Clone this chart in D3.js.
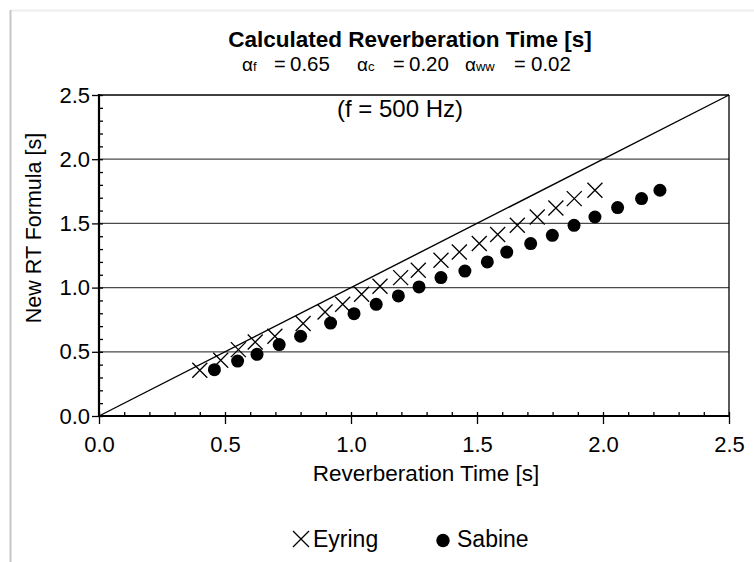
<!DOCTYPE html>
<html><head><meta charset="utf-8">
<script src="https://cdn.jsdelivr.net/npm/d3@7"></script>
<style>body{margin:0;background:#fff}svg{display:block}text{font-family:"Liberation Sans",Arial,sans-serif;fill:#000}</style>
</head><body><svg id="c" width="754" height="562"></svg>
<script>
const eyringX = [0.40,0.483,0.553,0.62,0.698,0.81,0.897,0.967,1.042,1.115,1.197,1.267,1.357,1.43,1.509,1.582,1.66,1.739,1.813,1.886,1.968];
const eyringY = [0.356,0.434,0.517,0.576,0.621,0.72,0.81,0.87,0.948,1.01,1.078,1.135,1.213,1.277,1.343,1.413,1.485,1.55,1.62,1.693,1.758];
const sabineX = [0.458,0.55,0.627,0.715,0.80,0.919,1.012,1.10,1.188,1.27,1.357,1.452,1.541,1.618,1.713,1.799,1.885,1.968,2.058,2.153,2.226];
const sabineY = [0.361,0.428,0.48,0.556,0.621,0.724,0.797,0.87,0.935,1.005,1.078,1.129,1.2,1.277,1.343,1.407,1.485,1.55,1.623,1.693,1.758];
const majorTicks = [0,0.5,1.0,1.5,2.0,2.5];
const minorTicks = d3.range(0,26).map(i=>i/10);
const gridValues = [0.5,1.0,1.5,2.0];
const title = "Calculated Reverberation Time [s]";
const subtitleSubs = ["f","c","ww"];
const subtitleVals = ["0.65","0.20","0.02"];
const note = "(f = 500 Hz)";
const xTitle = "Reverberation Time [s]";
const yTitle = "New RT Formula [s]";
const seriesNames = ["Eyring","Sabine"];

const svg = d3.select("#c");
const L=99, R=729, T=95, B=416;
const x = d3.scaleLinear().domain([0,2.5]).range([L,R]);
const y = d3.scaleLinear().domain([0,2.5]).range([B,T]);

// outer frame
svg.append("line").attr("x1",10).attr("x2",754).attr("y1",10.5).attr("y2",10.5).attr("stroke","#eeeeee").attr("stroke-width",2);
svg.append("line").attr("x1",10.5).attr("x2",10.5).attr("y1",10).attr("y2",562).attr("stroke","#c6c6c6").attr("stroke-width",2);

// grid
svg.append("g").selectAll("line").data(gridValues).join("line")
  .attr("x1",L).attr("x2",R).attr("y1",d=>y(d)).attr("y2",d=>y(d))
  .attr("stroke","#4a4a4a").attr("stroke-width",1.3);
svg.append("line").attr("x1",L).attr("x2",R).attr("y1",y(2.5)).attr("y2",y(2.5)).attr("stroke","#000").attr("stroke-width",1.3);
svg.append("line").attr("x1",x(2.5)).attr("x2",x(2.5)).attr("y1",T).attr("y2",B).attr("stroke","#000").attr("stroke-width",1.3);

// diagonal y = x
svg.append("line").attr("x1",x(0)).attr("y1",y(0)).attr("x2",x(2.5)).attr("y2",y(2.5)).attr("stroke","#000").attr("stroke-width",1.4);

// axes
const fs = 22;
const xMajor = svg.append("g").attr("transform",`translate(0,${B})`)
  .call(d3.axisBottom(x).tickValues(majorTicks).tickSize(8).tickPadding(12).tickFormat(d3.format(".1f")));
const xMinor = svg.append("g").attr("transform",`translate(0,${B})`)
  .call(d3.axisTop(x).tickValues(minorTicks).tickSize(4).tickFormat(""));
const yMajor = svg.append("g").attr("transform",`translate(${L},0)`)
  .call(d3.axisLeft(y).tickValues(majorTicks).tickSize(7).tickPadding(2).tickFormat(d3.format(".1f")));
const yMinor = svg.append("g").attr("transform",`translate(${L},0)`)
  .call(d3.axisRight(y).tickValues(minorTicks).tickSize(4).tickFormat(""));
[xMajor,xMinor,yMajor,yMinor].forEach(g=>{
  g.select(".domain").remove();
  g.selectAll(".tick line").attr("stroke","#000").attr("stroke-width",1.3);
  g.selectAll("text").attr("font-size",fs).attr("font-family","Liberation Sans, Arial, sans-serif").attr("fill","#000");
});
svg.append("line").attr("x1",L).attr("x2",R).attr("y1",B).attr("y2",B).attr("stroke","#000").attr("stroke-width",2.2);
svg.append("line").attr("x1",L).attr("x2",L).attr("y1",T-1).attr("y2",B+1).attr("stroke","#000").attr("stroke-width",2.2);

// markers
function cross(g, cx, cy, h){
  g.append("path").attr("d",`M${cx-h},${cy-h}L${cx+h},${cy+h}M${cx-h},${cy+h}L${cx+h},${cy-h}`)
   .attr("stroke","#000").attr("stroke-width",1.3).attr("fill","none");
}
const ge = svg.append("g");
eyringX.forEach((v,i)=>cross(ge, x(v), y(eyringY[i]), 7.5));
svg.append("g").selectAll("circle").data(sabineX).join("circle")
  .attr("cx",d=>x(d)).attr("cy",(d,i)=>y(sabineY[i])).attr("r",6.5).attr("fill","#000");

// titles
svg.append("text").attr("x",410).attr("y",47).attr("text-anchor","middle").attr("font-size",22.5).attr("font-weight","bold").text(title);
const alphaX = [242,357,465], eqX = [274,393,514], valX = [290,409,531];
subtitleSubs.forEach((s,i)=>{
  const t = svg.append("text").attr("x",alphaX[i]).attr("y",71).attr("font-size",19);
  t.append("tspan").text("α");
  t.append("tspan").attr("font-size",13).text(s);
  svg.append("text").attr("x",eqX[i]).attr("y",71).attr("font-size",20).text("=");
  svg.append("text").attr("x",valX[i]).attr("y",71).attr("font-size",20.5).text(subtitleVals[i]);
});
svg.append("text").attr("x",400).attr("y",117).attr("text-anchor","middle").attr("font-size",24).text(note);
svg.append("text").attr("x",426).attr("y",481).attr("text-anchor","middle").attr("font-size",22.5).text(xTitle);
svg.append("text").attr("transform","translate(41,228) rotate(-90)").attr("text-anchor","middle").attr("font-size",21.5).text(yTitle);

// legend
const lg = svg.append("g");
cross(lg, 301, 539, 8);
lg.append("text").attr("x",313).attr("y",547).attr("font-size",23).text(seriesNames[0]);
lg.append("circle").attr("cx",443).attr("cy",540.5).attr("r",6.7).attr("fill","#000");
lg.append("text").attr("x",457).attr("y",547).attr("font-size",23).text(seriesNames[1]);
</script></body></html>
